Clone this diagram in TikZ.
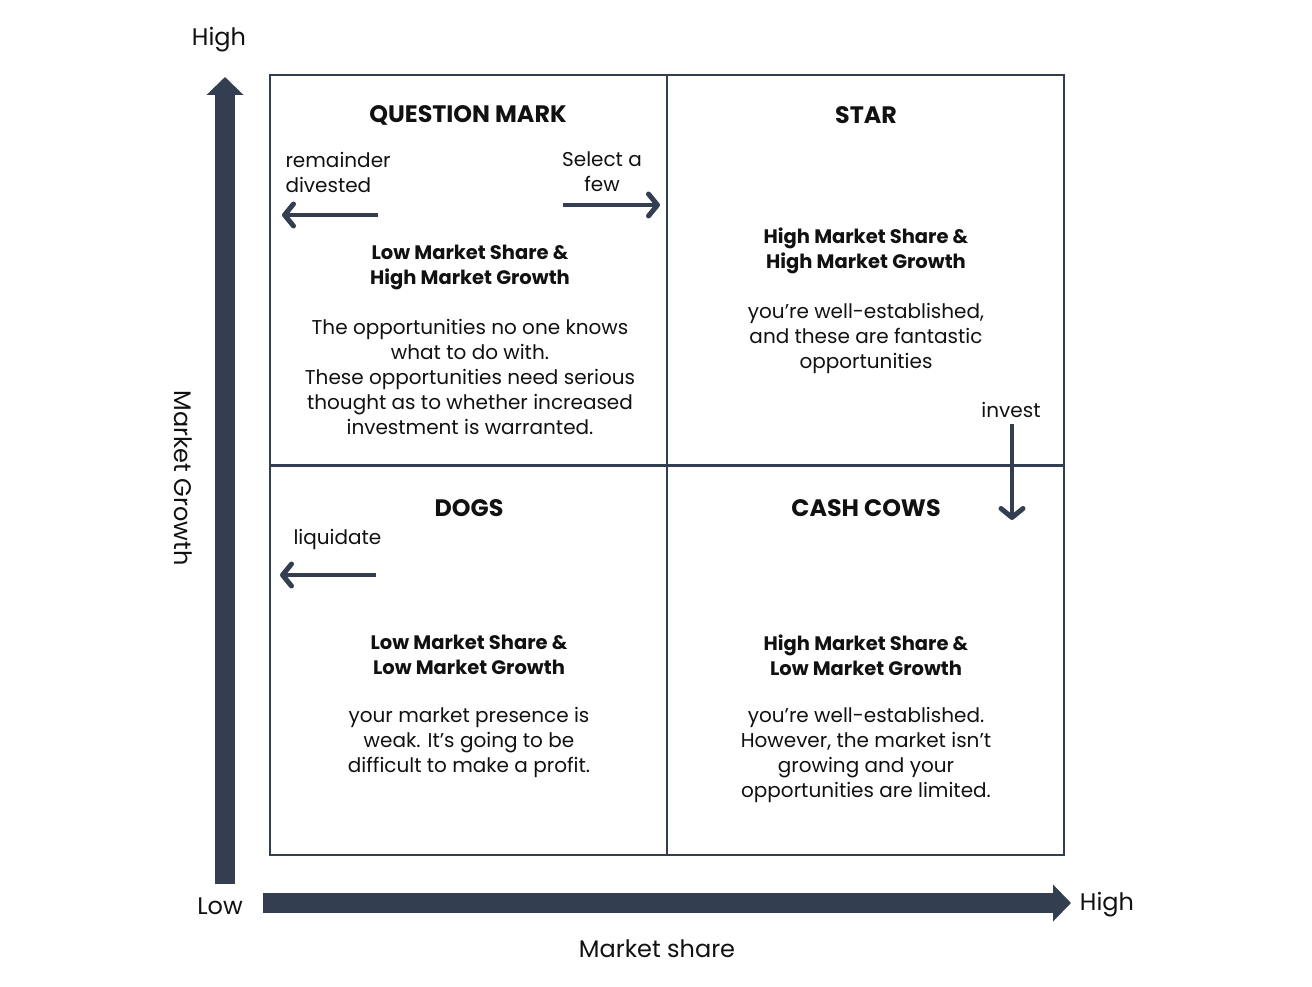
\documentclass[tikz,border=0pt]{standalone}
\usepackage{fontspec}
\setmainfont{Poppins}
\usetikzlibrary{arrows.meta, positioning}
\definecolor{slate}{HTML}{333F50}
\definecolor{ink}{HTML}{111111}
\begin{document}
\begin{tikzpicture}[x=1pt, y=-1pt,
    quad/.style={draw=slate, line width=2pt, minimum width=397pt, minimum height=390pt, inner sep=0pt},
    title/.style={text=ink, font=\bfseries\fontsize{23.8}{28}\selectfont},
    sub/.style={text=ink, align=center, font=\bfseries\fontsize{19.5}{25}\selectfont},
    body/.style={text=ink, align=center, font=\fontsize{20}{25}\selectfont},
    note/.style={text=ink, font=\fontsize{20}{25}\selectfont},
    axislab/.style={text=ink, font=\fontsize{24}{28}\selectfont},
    move/.style={draw=slate, line width=4pt, -{Straight Barb[length=9pt, width=22pt, line width=5pt, round]}},
    axis/.style={draw=slate, line width=20pt, -{Triangle[length=18pt, width=36pt]}}]
                \useasboundingbox (0,0) rectangle (1312,987);
                % Quadrants
                \node[quad] (qm) at (468.5,270.5) {};
                \node[quad] (star) at (865.5,270.5) {};
                \node[quad] (dogs) at (468.5,660) {};
                \node[quad] (cows) at (865.5,660) {};

                % Question mark
                \node[title] (qmt) at (468,115) {QUESTION MARK};
                \node[note, align=left, anchor=west] (rem) at (282,172) {remainder\\divested};
                \node[note, align=center] (sel) at (602,172) {Select a\\few};
                \node[sub] (qms) at (470,267) {Low Market Share \&\\High Market Growth};
                \node[body] (qmb) at (470,377) {The opportunities no one knows\\what to do with.\\These opportunities need serious\\thought as to whether increased\\investment is warranted.};
                \coordinate (rem0) at (378,215);
                \coordinate (rem1) at (282,215);
                \coordinate (sel0) at (563,205);
                \coordinate (sel1) at (660,205);
                \draw[move] (rem0) -- (rem1);
                \draw[move] (sel0) -- (sel1);

                % Star
                \node[title] (start) at (866,115) {STAR};
                \node[sub] (stars) at (866,251) {High Market Share \&\\High Market Growth};
                \node[body] (starb) at (866,338) {you're well-established,\\and these are fantastic\\opportunities};
                \node[note] (inv) at (1011,410) {invest};
                \coordinate (inv1) at (1012,520);
                \draw[move] (inv.south) ++(1,3) coordinate (inv0) -- (inv1);

                % Dogs
                \node[title] (dogst) at (469,508) {DOGS};
                \node[note, anchor=west] (liq) at (290,539) {liquidate};
                \coordinate (liq0) at (376,575);
                \coordinate (liq1) at (280,575);
                \draw[move] (liq0) -- (liq1);
                \node[sub] (dogss) at (469,655) {Low Market Share \&\\Low Market Growth};
                \node[body] (dogsb) at (469,742) {your market presence is\\weak. It's going to be\\difficult to make a profit.};

                % Cash cows
                \node[title] (cowst) at (866,508) {CASH COWS};
                \node[sub] (cowss) at (866,655) {High Market Share \&\\Low Market Growth};
                \node[body] (cowsb) at (866,754.5) {you're well-established.\\However, the market isn't\\growing and your\\opportunities are limited.};

                % Axes
                \coordinate (y0) at (225,884);
                \coordinate (y1) at (225,77);
                \coordinate (x0) at (263,903);
                \coordinate (x1) at (1071,903);
                \draw[axis] (y0) -- (y1);
                \draw[axis] (x0) -- (x1);
                \node[axislab] (yhigh) at (219,40) {High};
                \node[axislab] (ylow) at (220,906) {Low};
                \node[axislab] (xhigh) at (1107,905) {High};
                \node[axislab] (xlab) at (657,949) {Market share};
                \node[axislab, rotate=-90] (ylab) at (183,478) {Market Growth};
            \end{tikzpicture}
\end{document}
